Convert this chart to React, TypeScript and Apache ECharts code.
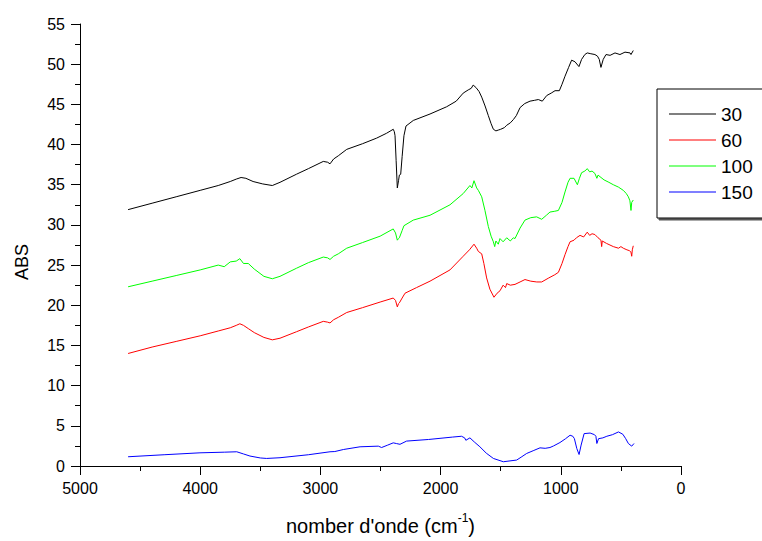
import React, { useEffect, useRef } from "react";
import * as echarts from "echarts";

const seriesNames = ["30", "60", "100", "150"];
const seriesColors = ["#000000", "#ff0000", "#00ff00", "#0000ff"];

const spectrum30: [number, number][] = [
  [4600, 31.9], [4400, 32.7], [4200, 33.5], [4000, 34.3], [3850, 34.9], [3750, 35.4], [3700, 35.7], [3660, 35.9],
  [3620, 35.8], [3560, 35.4], [3480, 35.1], [3400, 34.9], [3336, 35.3], [3200, 36.3], [3100, 37.0], [2976, 37.9],
  [2940, 37.8], [2920, 37.6], [2890, 38.2], [2851, 38.6], [2781, 39.4], [2650, 40.1], [2532, 40.8], [2450, 41.4],
  [2394, 41.9], [2385, 41.6], [2379, 41.1], [2370, 38.0], [2360, 34.6], [2350, 35.5], [2343, 36.2], [2332, 36.3],
  [2320, 38.5], [2305, 41.1], [2288, 42.3], [2227, 43.0], [2088, 43.8], [1950, 44.7], [1870, 45.4], [1812, 46.4],
  [1770, 46.8], [1745, 47.0], [1729, 47.4], [1706, 47.1], [1680, 46.6], [1658, 45.9], [1630, 44.8], [1603, 43.6],
  [1580, 42.6], [1561, 41.9], [1540, 41.7], [1520, 41.8], [1500, 41.9], [1470, 42.1], [1450, 42.4], [1420, 42.7],
  [1395, 43.1], [1370, 43.6], [1339, 44.6], [1300, 45.1], [1256, 45.4], [1220, 45.5], [1187, 45.6], [1154, 45.4],
  [1117, 46.1], [1080, 46.4], [1048, 46.7], [1012, 46.7], [990, 47.5], [965, 48.5], [935, 49.6], [910, 50.5],
  [882, 50.3], [849, 49.7], [827, 50.6], [800, 51.2], [780, 51.4], [750, 51.3], [716, 51.2], [695, 51.0],
  [680, 50.6], [666, 49.6], [647, 50.6], [624, 51.2], [590, 51.1], [549, 51.4], [508, 51.2], [466, 51.5],
  [424, 51.4], [416, 51.2], [397, 51.7],
];

const spectrum60: [number, number][] = [
  [4600, 14.0], [4400, 14.8], [4200, 15.5], [4000, 16.2], [3850, 16.8], [3750, 17.2], [3700, 17.5], [3670, 17.7],
  [3640, 17.5], [3600, 17.1], [3550, 16.6], [3470, 16.0], [3400, 15.7], [3336, 15.9], [3200, 16.7], [3100, 17.3],
  [2976, 18.0], [2940, 17.9], [2920, 17.8], [2890, 18.2], [2851, 18.5], [2781, 19.1], [2650, 19.7], [2503, 20.4],
  [2394, 20.9], [2375, 20.6], [2360, 19.8], [2350, 20.2], [2343, 20.3], [2320, 20.9], [2296, 21.5], [2200, 22.2],
  [2088, 23.0], [1922, 24.4], [1812, 26.1], [1760, 26.9], [1722, 27.6], [1700, 27.1], [1686, 26.7], [1658, 26.4],
  [1640, 25.2], [1617, 23.4], [1590, 22.0], [1556, 21.0], [1530, 21.5], [1506, 21.8], [1480, 22.5], [1460, 22.2],
  [1450, 22.7], [1420, 22.5], [1381, 22.6], [1339, 22.9], [1298, 23.2], [1250, 23.0], [1200, 22.9], [1159, 22.9],
  [1100, 23.4], [1050, 23.8], [1020, 24.1], [990, 25.2], [965, 26.3], [940, 27.3], [923, 27.9], [890, 28.1],
  [870, 28.4], [840, 28.7], [810, 28.5], [780, 29.1], [760, 28.7], [740, 28.9], [716, 28.8], [690, 28.4],
  [666, 28.1], [660, 27.3], [655, 28.0], [620, 27.7], [563, 27.3], [520, 27.1], [500, 27.3], [480, 27.1],
  [450, 26.9], [430, 26.8], [416, 26.6], [410, 26.1], [405, 26.9], [397, 27.4],
];

const spectrum100: [number, number][] = [
  [4600, 22.3], [4400, 23.0], [4200, 23.7], [4000, 24.4], [3850, 25.0], [3800, 24.8], [3750, 25.4], [3700, 25.5],
  [3670, 25.8], [3640, 25.2], [3600, 25.2], [3550, 24.5], [3470, 23.6], [3400, 23.3], [3336, 23.6], [3200, 24.6],
  [3100, 25.3], [2976, 26.0], [2940, 25.9], [2920, 25.7], [2890, 26.1], [2851, 26.4], [2781, 27.1], [2650, 27.8],
  [2503, 28.6], [2394, 29.5], [2375, 29.0], [2360, 28.1], [2350, 28.3], [2343, 28.4], [2320, 29.3], [2305, 29.9],
  [2227, 30.6], [2088, 31.2], [1922, 32.5], [1812, 33.9], [1756, 34.9], [1740, 34.6], [1722, 35.5], [1700, 34.6],
  [1686, 34.3], [1658, 33.5], [1631, 31.8], [1603, 29.8], [1580, 28.6], [1561, 27.9], [1550, 27.3], [1540, 28.0],
  [1520, 27.6], [1506, 28.3], [1480, 27.9], [1450, 28.4], [1420, 28.0], [1395, 28.4], [1381, 28.3], [1339, 29.6],
  [1298, 30.6], [1250, 30.9], [1201, 31.0], [1159, 30.7], [1120, 31.2], [1090, 31.6], [1050, 31.7], [1020, 31.8],
  [990, 32.8], [965, 34.1], [940, 35.3], [923, 35.8], [890, 35.8], [862, 35.0], [845, 35.8], [827, 36.5],
  [800, 36.7], [780, 37.0], [760, 36.6], [740, 36.7], [716, 36.4], [700, 35.8], [690, 36.2], [674, 36.0],
  [640, 35.6], [600, 35.3], [563, 35.0], [520, 34.7], [480, 34.3], [455, 33.9], [438, 33.5], [425, 33.0],
  [416, 31.8], [410, 32.8], [397, 33.1],
];

const spectrum150: [number, number][] = [
  [4600, 1.15], [4300, 1.4], [4002, 1.64], [3800, 1.72], [3696, 1.77], [3640, 1.5], [3586, 1.24], [3500, 1.0],
  [3447, 0.94], [3336, 1.03], [3100, 1.4], [2920, 1.77], [2880, 1.8], [2809, 2.05], [2670, 2.39], [2518, 2.47],
  [2491, 2.3], [2440, 2.6], [2394, 2.88], [2366, 2.79], [2338, 2.7], [2283, 3.1], [2100, 3.3], [1900, 3.6],
  [1826, 3.7], [1800, 3.5], [1790, 3.2], [1756, 3.5], [1720, 3.0], [1673, 2.39], [1620, 1.6], [1561, 0.94],
  [1478, 0.53], [1367, 0.74], [1330, 1.1], [1284, 1.56], [1230, 1.9], [1173, 2.26], [1130, 2.2], [1090, 2.3],
  [1060, 2.5], [1007, 2.92], [960, 3.4], [923, 3.83], [900, 3.7], [887, 3.41], [867, 2.18], [848, 1.43],
  [831, 2.6], [806, 4.03], [756, 4.1], [720, 3.9], [708, 3.7], [700, 2.8], [686, 3.4], [650, 3.5],
  [617, 3.7], [570, 3.9], [520, 4.24], [484, 3.95], [460, 3.4], [438, 2.8], [410, 2.47], [391, 2.8],
];

const spectra = [spectrum30, spectrum60, spectrum100, spectrum150];

const FONT = "'Liberation Sans', Arial, sans-serif";

export default function App() {
  const ref = useRef<HTMLDivElement>(null);
  useEffect(() => {
    if (!ref.current) return;
    const chart = echarts.init(ref.current, null, { renderer: "svg" });
    const axisCommon = {
      axisLine: { show: true, onZero: false, lineStyle: { color: "#000", width: 1 } },
      axisTick: { show: true, inside: false, length: 9, lineStyle: { color: "#000", width: 1 } },
      minorTick: { show: true, splitNumber: 2, length: 5, lineStyle: { color: "#000", width: 1 } },
      splitLine: { show: false },
      minorSplitLine: { show: false },
    };
    const labelStyle = {
      color: "#000",
      fontSize: 16,
      fontFamily: FONT,
      formatter: (v: number) => String(v),
    };
    chart.setOption({
      animation: false,
      backgroundColor: "#fff",
      textStyle: { fontFamily: FONT },
      grid: { left: 80, right: 81, top: 24, bottom: 72, containLabel: false },
      xAxis: {
        type: "value",
        inverse: true,
        min: 0,
        max: 5000,
        interval: 1000,
        ...axisCommon,
        axisLabel: { ...labelStyle, margin: 14 },
        name: "{a|nomber d'onde (cm}{s|-1}{a|)}",
        nameLocation: "middle",
        nameGap: 46,
        nameTextStyle: {
          rich: {
            a: { fontSize: 20, fontFamily: FONT, color: "#000", lineHeight: 24, verticalAlign: "bottom" },
            s: { fontSize: 12, fontFamily: FONT, color: "#000", lineHeight: 24, verticalAlign: "top" },
          },
        },
      },
      yAxis: {
        type: "value",
        min: 0,
        max: 55,
        interval: 5,
        ...axisCommon,
        axisLabel: { ...labelStyle, margin: 15 },
      },
      legend: {
        orient: "vertical",
        left: 657,
        top: 89,
        icon: "rect",
        itemWidth: 47,
        itemHeight: 1,
        itemGap: 6,
        padding: [15, 40, 16, 12],
        borderColor: "#000",
        borderWidth: 1,
        borderRadius: 0,
        backgroundColor: "#fff",
        shadowColor: "#555",
        shadowOffsetX: 2,
        shadowOffsetY: 2,
        shadowBlur: 0,
        textStyle: { fontSize: 19, fontFamily: FONT, color: "#000", lineHeight: 20 },
        data: seriesNames,
      },
      graphic: [
        {
          type: "text",
          x: 22,
          y: 262,
          rotation: Math.PI / 2,
          style: {
            text: "ABS",
            fontSize: 18,
            fontFamily: FONT,
            fill: "#000",
            align: "center",
            verticalAlign: "middle",
          },
        },
      ],
      series: spectra.map((d, i) => ({
        name: seriesNames[i],
        type: "line",
        data: d,
        symbol: "none",
        showSymbol: false,
        smooth: false,
        lineStyle: { color: seriesColors[i], width: 1 },
        itemStyle: { color: seriesColors[i] },
      })),
    });
    return () => chart.dispose();
  }, []);
  return (
    <div
      ref={ref}
      style={{ position: "fixed", left: 0, top: 0, width: 762, height: 541, background: "#fff" }}
    />
  );
}
